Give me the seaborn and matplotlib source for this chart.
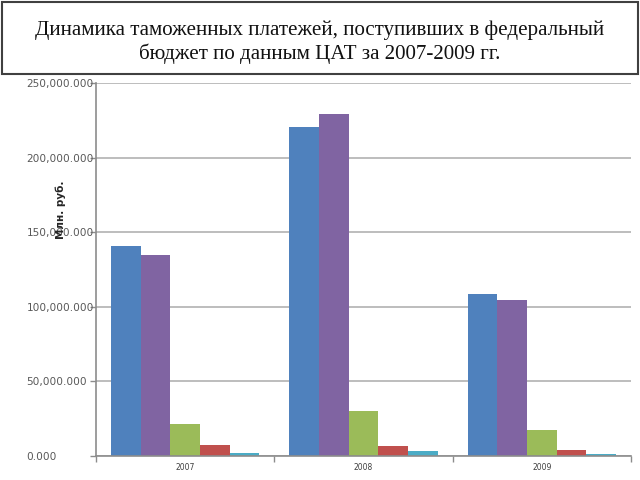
import matplotlib
matplotlib.use("Agg")
import matplotlib.pyplot as plt
from matplotlib.patches import Rectangle
from matplotlib.ticker import FuncFormatter, FixedLocator
import seaborn as sns
import pandas as pd

years = ["2007", "2008", "2009"]
series = ["Ряд 1", "Ряд 2", "Ряд 3", "Ряд 4", "Ряд 5"]
values = {
    "Ряд 1": [140500, 220400, 108900],
    "Ряд 2": [135000, 229200, 104800],
    "Ряд 3": [21500, 30200, 17500],
    "Ряд 4": [7400, 6700, 4000],
    "Ряд 5": [2000, 3400, 1300],
}
colors = ["#4F81BD", "#8064A2", "#9BBB59", "#C0504D", "#4BACC6"]
yticks = [0, 50000, 100000, 150000, 200000, 250000]
title = "Динамика таможенных платежей, поступивших в федеральный\nбюджет по данным ЦАТ за 2007-2009 гг."
ylabel = "Млн. руб."

rows = []
for s in series:
    for y, v in zip(years, values[s]):
        rows.append({"year": y, "series": s, "value": v})
df = pd.DataFrame(rows)

sns.set_style("white")
plt.rcParams["font.family"] = ["DejaVu Sans"]

fig = plt.figure(figsize=(6.4, 4.8), dpi=100)
ax = fig.add_axes([96 / 640, 24 / 480, 535 / 640, 373 / 480])

sns.barplot(data=df, x="year", y="value", hue="series", palette=colors,
            width=0.83, legend=False, ax=ax, saturation=1, errorbar=None,
            edgecolor="none")

ax.set_ylim(0, 250000)
ax.set_xlim(-0.5, 2.5)
ax.yaxis.set_major_locator(FixedLocator(yticks))
ax.yaxis.set_major_formatter(FuncFormatter(lambda v, p: f"{v:,.3f}"))
ax.grid(axis="y", color="#ABABAB", linewidth=1.1)
ax.set_axisbelow(True)

for side in ["top", "right"]:
    ax.spines[side].set_visible(False)
for side in ["left", "bottom"]:
    ax.spines[side].set_color("#8C8C8C")
    ax.spines[side].set_linewidth(1.2)

ax.tick_params(axis="y", direction="out", length=4, width=1, color="#8C8C8C",
               labelsize=7.6, labelcolor="#595959", pad=46, left=True)
for lab in ax.get_yticklabels():
    lab.set_horizontalalignment("left")

ax.tick_params(axis="x", which="major", length=0, labelsize=5.5,
               labelcolor="#404040", pad=5)
ax.set_xticks([-0.5, 0.5, 1.5, 2.5], minor=True)
ax.tick_params(axis="x", which="minor", direction="out", length=4, width=1,
               color="#8C8C8C", bottom=True)

ax.set_xlabel("")
ax.set_ylabel(ylabel, fontsize=7.5, fontweight="bold", color="#262626")
ax.yaxis.set_label_coords(-30 / 535, (456 - 210) / 373)

fig.patches.append(Rectangle((2 / 640, 1 - 74 / 480), 636 / 640, 72 / 480,
                             transform=fig.transFigure, fill=False,
                             edgecolor="#404040", linewidth=1.5))
fig.text(0.5, 1 - 42 / 480, title, ha="center", va="center",
         fontsize=15.1, family="Liberation Serif", color="#111111",
         linespacing=1.25)

fig.savefig("out.png", dpi=100)
